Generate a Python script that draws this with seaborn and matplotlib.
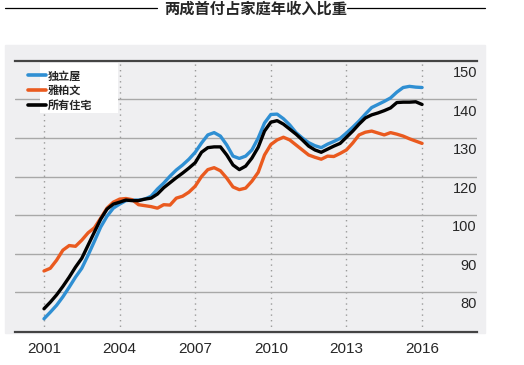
import numpy as np
import pandas as pd
import seaborn as sns
import matplotlib.pyplot as plt
from matplotlib.patches import Rectangle
from matplotlib.lines import Line2D

# quarterly, 2001 Q1 .. 2016 Q1
quarters = list(np.arange(2001.0, 2016.01, 0.25))

detached = [75.9, 77.6, 79.4, 81.6, 84.1, 86.7, 89.0, 92.4, 96.0, 99.7, 105.0, 109.2,
            111.3, 113.1, 113.4, 113.4, 113.9, 115.4, 119.1, 121.1, 122.9, 124.5, 125.8, 127.3,
            129.1, 131.5, 133.6, 134.2, 133.3, 131.0, 128.1, 127.5, 128.1, 129.7, 132.8, 136.7,
            138.9, 139.0, 137.8, 136.2, 134.2, 132.8, 131.6, 130.8, 130.3, 131.2, 131.9, 132.7,
            134.1, 135.6, 137.2, 139.0, 140.7, 141.5, 142.3, 143.2, 144.7, 145.9, 146.2, 146.0,
            145.9]
atlanta = [88.3, 89.0, 91.1, 93.7, 94.9, 94.7, 96.3, 98.2, 99.5, 104.0, 109.2, 112.3,
           113.9, 114.2, 113.6, 111.0, 110.5, 110.0, 109.2, 111.0, 110.8, 114.4, 115.4, 117.5,
           120.3, 122.8, 124.6, 125.1, 124.3, 122.4, 120.1, 118.8, 119.6, 121.6, 123.9, 128.4,
           131.1, 132.3, 133.0, 132.3, 131.0, 129.7, 128.4, 127.8, 127.3, 128.1, 128.0, 128.8,
           129.7, 131.5, 133.6, 134.3, 134.6, 134.1, 133.6, 134.2, 133.8, 133.3, 132.6, 132.0,
           131.4]
all_homes = [78.5, 80.2, 82.1, 84.3, 86.7, 89.3, 91.6, 95.0, 98.4, 103.5, 108.7, 111.3,
             112.3, 113.4, 113.1, 113.1, 113.9, 114.4, 116.5, 119.8, 121.2, 122.5, 123.7, 125.0,
             126.4, 129.1, 130.3, 130.5, 130.5, 128.4, 125.8, 124.6, 125.5, 127.6, 130.4, 134.6,
             136.9, 137.3, 136.4, 135.1, 133.8, 132.3, 130.7, 129.7, 129.1, 129.9, 130.7, 131.4,
             133.0, 134.6, 136.4, 138.0, 138.8, 139.3, 139.9, 140.6, 142.0, 142.1, 142.1, 142.2,
             141.5]

series_names = ['独立屋', '雅柏文', '所有住宅']
series_colors = ['#2f8fd3', '#ea5a1f', '#000000']

# the printed axis is not linear: these labels sit at equal spacing
tick_values = [80, 90, 100, 120, 130, 140, 150]
year_ticks = [2001, 2004, 2007, 2010, 2013, 2016]

df = pd.DataFrame({'year': quarters * 3,
                   'value': detached + atlanta + all_homes,
                   'series': [s for s in series_names for _ in quarters]})

sns.set_style('white')
plt.rcParams['font.family'] = ['Liberation Sans', 'Noto Sans CJK SC']

W, H = 524, 365
fig = plt.figure(figsize=(W / 100, H / 100), dpi=100)
fig.patches.append(Rectangle((5 / W, 1 - 333 / H), 480 / W, 288 / H,
                             transform=fig.transFigure, color='#efeff1', zorder=-1))
ax = fig.add_axes([15 / W, 1 - 332 / H, 462 / W, 271 / H])
ax.patch.set_alpha(0)

scale_vals = [70, 80, 90, 100, 120, 130, 140, 150, 160]
scale_pos = [-1, 0, 1, 2, 3, 4, 5, 6, 7]
fwd = lambda v: np.interp(v, scale_vals, scale_pos)
inv = lambda p: np.interp(p, scale_pos, scale_vals)
ax.set_yscale('function', functions=(fwd, inv))

sns.lineplot(data=df, x='year', y='value', hue='series', hue_order=series_names,
             palette=series_colors, linewidth=2.4, legend=False, ax=ax, zorder=3)

ax.set_xlim(1999.85, 2018.18)
ax.set_ylim(inv(-0.753), inv(6.278))
ax.set_xticks(year_ticks)
ax.set_xticklabels([str(y) for y in year_ticks], fontsize=11)
ax.set_yticks(tick_values)
ax.set_yticklabels([str(v) for v in tick_values], fontsize=10.5)
ax.set_yticks(inv(np.arange(6) + 0.28), minor=True)
ax.yaxis.tick_right()
ax.tick_params(axis='both', which='both', length=0)
ax.tick_params(axis='y', pad=0)
ax.tick_params(axis='x', pad=7)
plt.setp(ax.get_yticklabels(), ha='right')
ax.set_axisbelow(True)
ax.grid(axis='y', which='minor', color='#a8a8a8', linewidth=1)
ax.grid(axis='x', which='major', color='#9a9a9a', linewidth=1, linestyle=(0, (1, 3)))
ax.set_xlabel('')
ax.set_ylabel('')
for side in ['left', 'right']:
    ax.spines[side].set_visible(False)
for side in ['top', 'bottom']:
    ax.spines[side].set_color('#444444')
    ax.spines[side].set_linewidth(1.6)

# white box behind the legend text
ax.add_patch(Rectangle((40 / W, 1 - 113 / H), 78 / W, 50 / H, transform=fig.transFigure,
                       facecolor='white', edgecolor='none', zorder=1))
handles = [Line2D([], [], color=c, linewidth=2.6) for c in series_colors]
ax.legend(handles, series_names, loc='upper left', bbox_to_anchor=(22 / W, 1 - 65 / H),
          bbox_transform=fig.transFigure, frameon=False, borderpad=0, handlelength=1.65,
          handletextpad=0.15, labelspacing=0.35, prop={'size': 8, 'weight': 'bold'})

fig.text(256 / W, 1 - 9 / H, '两成首付占家庭年收入比重', ha='center', va='center',
         fontsize=11, fontweight='bold')
fig.add_artist(Line2D([5 / W, 157 / W], [1 - 8 / H] * 2, color='black', linewidth=0.9))
fig.add_artist(Line2D([347 / W, 485 / W], [1 - 8 / H] * 2, color='black', linewidth=0.9))

fig.savefig('out.png', dpi=100)
